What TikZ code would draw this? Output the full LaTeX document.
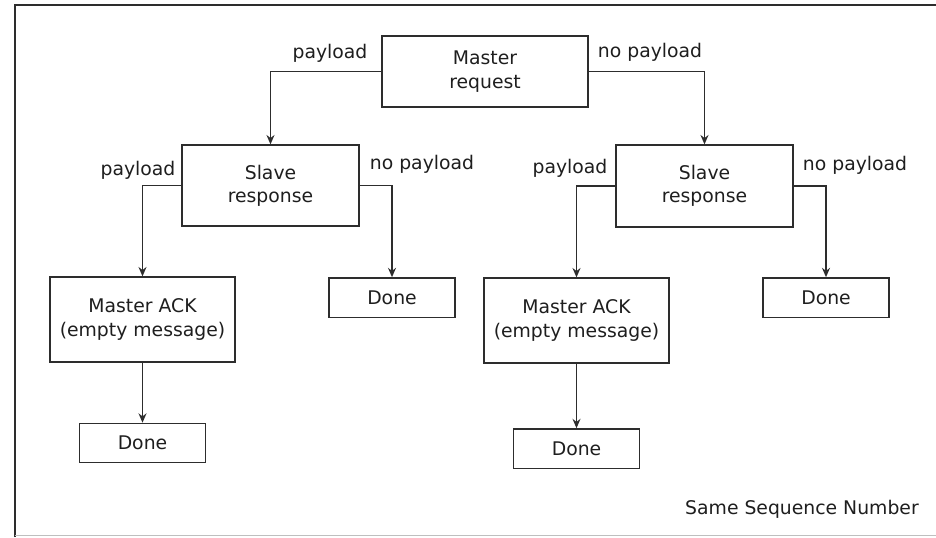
\documentclass[tikz,border=0pt]{standalone}
\usepackage{fontspec}
\setmainfont{DejaVu Sans}
\usetikzlibrary{arrows.meta}
\definecolor{lnline}{RGB}{45,45,45}
\definecolor{lntext}{RGB}{30,30,30}

\begin{document}
\begin{tikzpicture}[x=0.75pt,y=-0.75pt,
    box/.style={draw=lnline,line width=1pt,inner sep=0pt,align=center,text=lntext,
                font=\fontsize{14.1}{17.5}\selectfont},
    lbl/.style={inner sep=0pt,text=lntext,font=\fontsize{14.1}{17.5}\selectfont},
    link/.style={draw=lnline,line width=1pt,-{Stealth[length=7pt,width=6pt]}}]
  \useasboundingbox (0,0) rectangle (936,537);
  %% Frame
  \draw[lnline,line width=1.5pt] (14.5,537) -- (14.5,4.5) -- (936,4.5);
  \draw[gray!50,line width=1pt] (14.5,535.5) -- (936,535.5);
  %% Top
  \node[box,minimum width=154.5pt,minimum height=53.25pt] (masterreq) at (485,71.5) {Master\\request};
  %% Left branch
  \node[box,minimum width=132.75pt,minimum height=60.75pt] (slaveL) at (270.5,185.5) {Slave\\response};
  \node[box,minimum width=138.75pt,minimum height=63.75pt] (ackL) at (142.5,319.5) {Master ACK\\(empty message)};
  \node[box,minimum width=94.5pt,minimum height=29.5pt] (doneLa) at (142.5,443) {Done};
  \node[box,minimum width=94.5pt,minimum height=29.5pt] (doneLb) at (392,297.5) {Done};
  %% Right branch
  \node[box,minimum width=132.75pt,minimum height=61.5pt] (slaveR) at (704.5,186) {Slave\\response};
  \node[box,minimum width=138.75pt,minimum height=63.75pt] (ackR) at (576.5,320.5) {Master ACK\\(empty message)};
  \node[box,minimum width=94.5pt,minimum height=29.5pt] (doneRa) at (576.5,448.5) {Done};
  \node[box,minimum width=94.5pt,minimum height=29.5pt] (doneRb) at (826,297.5) {Done};
  %% Labels
  \node[lbl] (lblM1) at (330,53) {payload};
  \node[lbl] (lblM2) at (650,52) {no payload};
  \node[lbl] (lblL1) at (138,170) {payload};
  \node[lbl] (lblL2) at (422,164) {no payload};
  \node[lbl] (lblR1) at (570,168) {payload};
  \node[lbl] (lblR2) at (855,165) {no payload};
  \node[lbl] (seqnote) at (802,509) {Same Sequence Number};
  %% Connectors
  \draw[link] (masterreq.west) -| (slaveL.north);
  \draw[link] (masterreq.east) -| (slaveR.north);
  \draw[link] (slaveL.west) -| (ackL.north);
  \draw[link] (slaveL.east) -| (doneLb.north);
  \draw[link] (ackL.south) -- (doneLa.north);
  \draw[link] (slaveR.west) -| (ackR.north);
  \draw[link] (slaveR.east) -| (doneRb.north);
  \draw[link] (ackR.south) -- (doneRa.north);
\end{tikzpicture}
\end{document}
